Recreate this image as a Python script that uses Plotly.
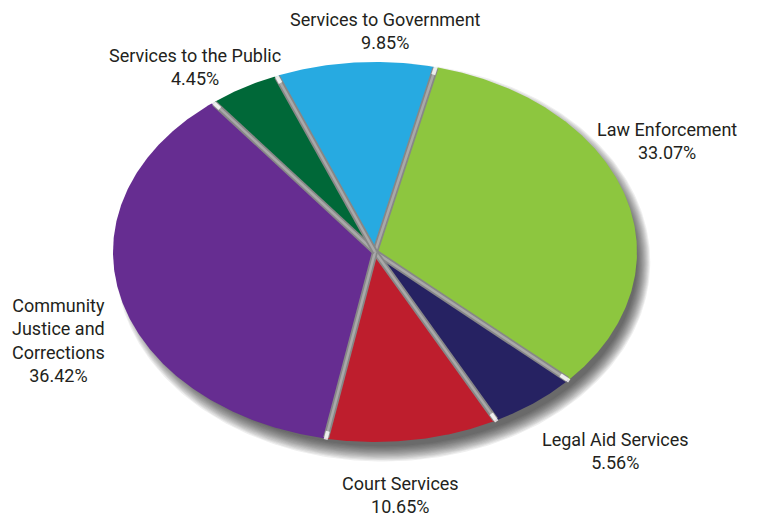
import numpy as np
import plotly.graph_objects as go

# Spending shares by program area (percent), drawn clockwise
categories = ["Law Enforcement", "Legal Aid Services", "Court Services",
              "Community Justice and Corrections", "Services to the Public",
              "Services to Government"]
shares = [33.07, 5.56, 10.65, 36.42, 4.45, 9.85]
label_text = ["Law Enforcement<br>33.07%", "Legal Aid Services<br>5.56%",
              "Court Services<br>10.65%",
              "Community<br>Justice and<br>Corrections<br>36.42%",
              "Services to the Public<br>4.45%", "Services to Government<br>9.85%"]
colors = ["#8dc63f", "#262262", "#be1e2d", "#662d91", "#006838", "#27aae1"]

# label anchor points (page pixels)
label_pos = [(667, 141), (615, 451), (400, 495), (58, 340), (195, 67), (385, 31)]

W, H = 766, 519
cx, cy, rx, ry = 375, 252, 262, 190
start_deg = 13.4

def ell(theta_deg, sx=1.0, sy=1.0, dx=0, dy=0):
    t = np.radians(theta_deg)
    return cx + dx + rx * sx * np.sin(t), cy + dy - ry * sy * np.cos(t)

fig = go.Figure()

# soft drop shadow, offset down and to the right
full = np.linspace(0, 360, 361)
n_sh = 14
for k in range(n_sh):
    f = k / (n_sh - 1)
    sx = 1.02 - 0.05 * f
    sy = 1.05 - 0.08 * f
    x, y = ell(full, sx, sy, dx=8, dy=10)
    fig.add_trace(go.Scatter(x=x, y=y, mode="lines", fill="toself",
                             fillcolor="rgba(30,30,30,0.07)", line=dict(width=0),
                             hoverinfo="skip", showlegend=False))

total = sum(shares)
bounds = [start_deg]
for v in shares:
    bounds.append(bounds[-1] + 360 * v / total)

# slices
for i, (name, v, c) in enumerate(zip(categories, shares, colors)):
    a0, a1 = bounds[i], bounds[i + 1]
    th = np.linspace(a0, a1, max(8, int((a1 - a0) * 2)))
    x, y = ell(th)
    xs = np.concatenate([[cx], x, [cx]])
    ys = np.concatenate([[cy], y, [cy]])
    fig.add_trace(go.Scatter(x=xs, y=ys, mode="lines", fill="toself",
                             fillcolor=c, line=dict(width=0, color=c),
                             name=name, hoverinfo="text",
                             text=f"{name}: {v:.2f}%", showlegend=False))

# grey separators between slices
for b in bounds[:-1]:
    x, y = ell(b, 0.995, 0.995)
    for w, col in ((6, "#878787"), (2.5, "#a9a9a9")):
        fig.add_trace(go.Scatter(x=[cx, x], y=[cy, y], mode="lines",
                                 line=dict(color=col, width=w),
                                 hoverinfo="skip", showlegend=False))
    # light notch at the outer rim
    xo, yo = ell(b, 1.005, 1.005)
    xi, yi = ell(b, 0.96, 0.96)
    fig.add_trace(go.Scatter(x=[xi, xo], y=[yi, yo], mode="lines",
                             line=dict(color="rgba(255,255,255,0.8)", width=4),
                             hoverinfo="skip", showlegend=False))

for txt, (lx, ly) in zip(label_text, label_pos):
    fig.add_annotation(x=lx, y=ly, text=txt, showarrow=False,
                       xanchor="center", yanchor="middle", align="center",
                       font=dict(family="Roboto", size=18, color="#231f20"))

fig.update_layout(
    width=W, height=H, margin=dict(l=0, r=0, t=0, b=0),
    paper_bgcolor="white", plot_bgcolor="white",
    xaxis=dict(range=[0, W], visible=False, fixedrange=True),
    yaxis=dict(range=[H, 0], visible=False, fixedrange=True),
    showlegend=False,
)

fig.write_html("out.html")
